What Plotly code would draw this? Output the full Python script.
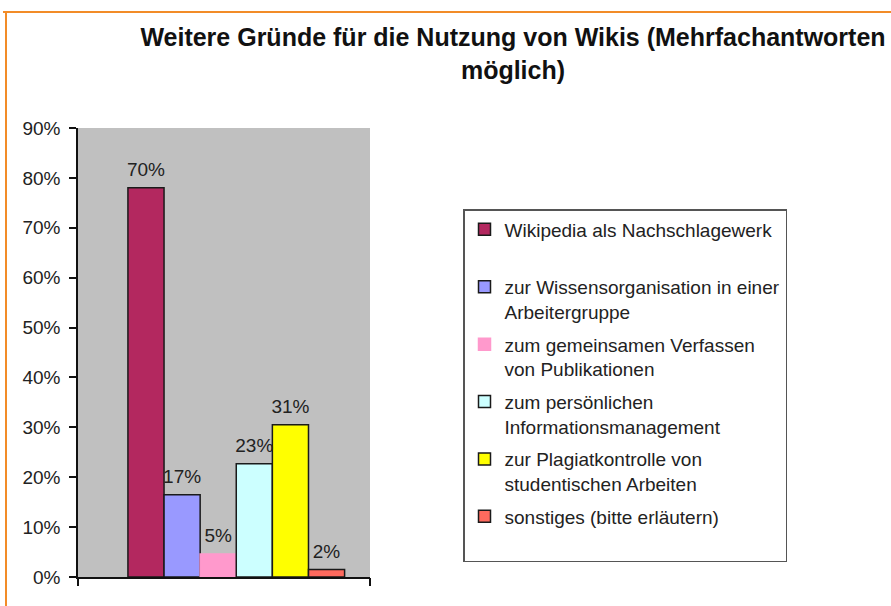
import plotly.graph_objects as go

# ---- data ----
series_names = [
    "Wikipedia als Nachschlagewerk<br> ",
    "zur Wissensorganisation in einer<br>Arbeitergruppe",
    "zum gemeinsamen Verfassen<br>von Publikationen",
    "zum persönlichen<br>Informationsmanagement",
    "zur Plagiatkontrolle von<br>studentischen Arbeiten",
    "sonstiges (bitte erläutern)<br> ",
]
bar_values = [78, 16.5, 4.6, 22.7, 30.5, 1.5]
value_labels = ["70%", "17%", "5%", "23%", "31%", "2%"]
bar_colors = ["#B3285F", "#9999FF", "#FF99CC", "#CCFFFF", "#FFFF00", "#FF6A5E"]
line_colors = ["#1a1a1a", "#1a1a1a", "#FF99CC", "#1a1a1a", "#1a1a1a", "#1a1a1a"]
y_ticks = [0, 10, 20, 30, 40, 50, 60, 70, 80, 90]
y_tick_text = ["0%", "10%", "20%", "30%", "40%", "50%", "60%", "70%", "80%", "90%"]
category = [""]
title_text = "Weitere Gründe für die Nutzung von Wikis (Mehrfachantworten<br>möglich)"

FONT = "Liberation Sans, Arial, sans-serif"

fig = go.Figure()
for i, name in enumerate(series_names):
    fig.add_trace(go.Bar(
        x=category, y=[bar_values[i]], name=name,
        marker=dict(color=bar_colors[i], line=dict(color=line_colors[i], width=1.5)),
        offsetgroup=f"g{i}", legendgroup=f"g{i}",
        hoverinfo="skip",
    ))
for i, name in enumerate(series_names):
    fig.add_trace(go.Scatter(
        x=category, y=[bar_values[i]], mode="markers+text",
        text=[value_labels[i]], textposition="top center",
        textfont=dict(family=FONT, size=19, color="#222222"),
        marker=dict(size=10, opacity=0),
        offsetgroup=f"g{i}", showlegend=False, cliponaxis=False,
        hoverinfo="skip",
    ))

# axis providing end ticks of the category axis
fig.add_trace(go.Scatter(x=[0, 1], y=[0, 0], xaxis="x2", mode="lines",
                         line=dict(width=0), showlegend=False, hoverinfo="skip"))

W, H = 891, 606
L, R, T, B = 78, 521, 128, 29
pw, ph = W - L - R, H - T - B

def px_x(p):
    return (p - L) / pw

def px_y(p):
    return (H - B - p) / ph

fig.update_layout(
    width=W, height=H,
    margin=dict(l=L, r=R, t=T, b=B),
    paper_bgcolor="white", plot_bgcolor="#C0C0C0",
    barmode="group", bargap=0.258, bargroupgap=0,
    scattermode="group", scattergap=0.258,
    font=dict(family=FONT, size=18, color="#222222"),
    title=dict(text=title_text, x=513 / W, xanchor="center", xref="container",
               y=1 - 46 / H, yanchor="top", yref="container",
               font=dict(family=FONT, size=25, color="#111111", weight="bold")),
    xaxis=dict(type="category", range=[-0.542, 0.458], showline=True,
               linecolor="#111111", linewidth=1.5, ticks="", showticklabels=False,
               showgrid=False, zeroline=False, fixedrange=True),
    xaxis2=dict(overlaying="x", range=[0, 1], tickvals=[0, 1], ticks="outside",
                ticklen=8, tickwidth=1.5, tickcolor="#111111", showticklabels=False,
                showgrid=False, zeroline=False, side="bottom", showline=False),
    yaxis=dict(range=[0, 90], tickvals=y_ticks, ticktext=y_tick_text,
               ticks="outside", ticklen=7, tickwidth=1.5, tickcolor="#111111",
               showline=True, linecolor="#111111", linewidth=1.5,
               showgrid=False, zeroline=False, ticklabelstandoff=5,
               tickfont=dict(family=FONT, size=19, color="#222222")),
    legend=dict(x=px_x(463), y=px_y(209), xanchor="left", yanchor="top",
                bgcolor="white", bordercolor="#555555", borderwidth=1.5,
                font=dict(family=FONT, size=19, color="#222222"),
                tracegroupgap=5, valign="top", itemwidth=30,
                traceorder="grouped"),
    shapes=[
        dict(type="line", xref="paper", yref="paper",
             x0=px_x(3), x1=px_x(891), y0=px_y(12), y1=px_y(12),
             line=dict(color="#F28C28", width=2)),
        dict(type="line", xref="paper", yref="paper",
             x0=px_x(6), x1=px_x(6), y0=px_y(12), y1=px_y(606),
             line=dict(color="#F28C28", width=2)),
    ],
)

fig.write_html("out.html", config={"displayModeBar": False},
               post_script="document.body.style.margin='0';")
